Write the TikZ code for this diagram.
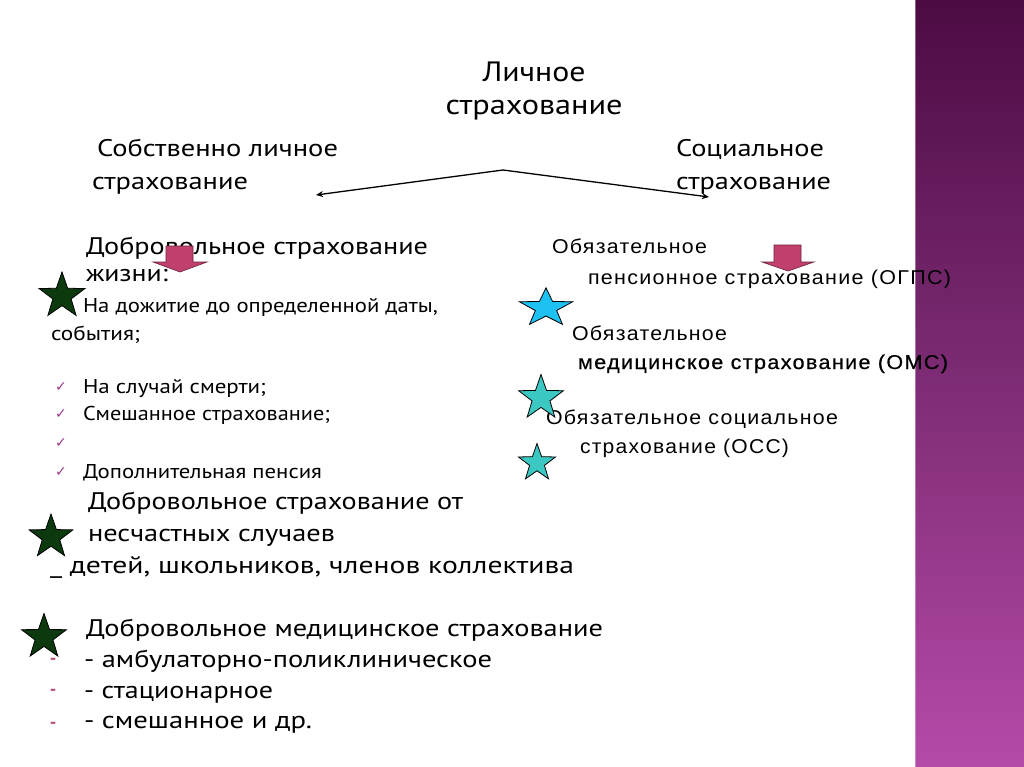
\documentclass[tikz,border=0pt]{standalone}
\usepackage{fontspec}
\usepackage{graphicx}
\setmainfont{PT Sans}
\newfontfamily\rf[LetterSpace=6]{Liberation Sans}
\newfontfamily\rfb[LetterSpace=6,FakeBold=0.5]{Liberation Sans}
\newfontfamily\symf{DejaVu Sans}
\newcommand\fw[2]{\resizebox{#1pt}{\height}{#2}}
\definecolor{bandtop}{HTML}{4C0B43}
\definecolor{bandmid}{HTML}{7E2C75}
\definecolor{bandbot}{HTML}{B54AA8}
\definecolor{dgreen}{HTML}{0C3A0E}
\definecolor{sblue}{HTML}{1EC2F2}
\definecolor{steal}{HTML}{3CC8C2}
\definecolor{pinkarrow}{HTML}{C0406E}
\definecolor{pinkedge}{HTML}{6E1E3E}
\definecolor{chk}{HTML}{9A3A8C}
\definecolor{dashc}{HTML}{B04A7A}
\usetikzlibrary{arrows.meta}
\tikzset{
  txt/.style={anchor=base west, inner sep=0pt, outer sep=0pt},
  big/.style={txt, font=\fontsize{24}{24}\selectfont},
  small/.style={txt, font=\fontsize{20}{20}\selectfont},
  rtxt/.style={txt, font=\rf\fontsize{20}{20}\selectfont},
  ttl/.style={anchor=base, inner sep=0pt, font=\fontsize{28}{28}\selectfont},
  chkmark/.style={anchor=base west, inner sep=0pt, text=chk, font=\symf\fontsize{14}{14}\selectfont},
  dashmark/.style={anchor=center, inner sep=0pt, text=dashc, font=\bfseries\fontsize{18}{18}\selectfont},
  conn/.style={draw=black, line width=1.3pt, -{Stealth[length=7pt,width=6pt]}},
  starstyle/.style={draw=black, line width=0.8pt, line join=miter},
  blockarrow/.style={fill=pinkarrow, draw=pinkedge, line width=0.6pt},
  pics/starp/.style={code={
    \path[pic actions] (270:#1) \foreach \k in {1,...,9}{
      -- ({270+36*\k}:{mod(\k,2)==1 ? #1*0.4 : #1})} -- cycle;}}
}
\begin{document}
\begin{tikzpicture}[x=1pt,y=-1pt]
\useasboundingbox (0,0) rectangle (1024,767);
\fill[white] (0,0) rectangle (1024,767);
% right band
\shade[top color=bandtop, bottom color=bandbot, middle color=bandmid] (915,0) rectangle (1024,767);
\fill[white, opacity=0.35] (913,0) rectangle (916,767);

% title
\node[ttl] (t1) at (534,82) {\fw{103}{Личное}};
\node[ttl] (t2) at (534,115) {\fw{177}{страхование}};

% branches
\node[big] (l1) at (97,157) {\fw{241}{Собственно личное}};
\node[big] (l2) at (92,190) {\fw{156}{страхование}};
\node[big] (r1) at (676,157) {\fw{148}{Социальное}};
\node[big] (r2) at (676,190) {\fw{155}{страхование}};

\coordinate (apex) at (503,170);
\coordinate (lend) at (316,195);
\coordinate (rend) at (709,197);
\draw[conn] (apex) -- (lend);
\draw[conn] (apex) -- (rend);

% left column
\node[big] (v1) at (86,254) {\fw{342}{Добровольное страхование}};
\node[big] (v2) at (86,281) {\fw{82}{жизни:}};
\node[small] (v3) at (83,312) {\fw{355}{На дожитие до определенной даты,}};
\node[small] (v4) at (51,340) {\fw{89}{события;}};
\node[chkmark] (c1) at (55,391) {✓};
\node[small] (v5) at (83,393) {\fw{183}{На случай смерти;}};
\node[chkmark] (c2) at (55,418) {✓};
\node[small] (v6) at (83,420) {\fw{247}{Смешанное страхование;}};
\node[chkmark] (c3) at (55,447) {✓};
\node[chkmark] (c4) at (55,476) {✓};
\node[small] (v7) at (83,478) {\fw{239}{Дополнительная пенсия}};

\node[big] (n1) at (88,509) {\fw{375}{Добровольное страхование от}};
\node[big] (n2) at (88,541) {\fw{247}{несчастных случаев}};
\node[big] (n3) at (50,573) {\fw{524}{\_ детей, школьников, членов коллектива}};

\node[big] (m1) at (86,636) {\fw{517}{Добровольное медицинское страхование}};
\node[dashmark] (d1) at (53,661) {-};
\node[big] (m2) at (84,667) {\fw{408}{- амбулаторно-поликлиническое}};
\node[dashmark] (d2) at (53,692) {-};
\node[big] (m3) at (84,698) {\fw{189}{- стационарное}};
\node[dashmark] (d3) at (53,725) {-};
\node[big] (m4) at (84,728) {\fw{228}{- смешанное и др.}};

% right column
\node[rtxt] (o1) at (552,253) {\fw{155}{Обязательное}};
\node[rtxt] (o2) at (588,284) {\fw{363}{пенсионное страхование (ОГПС)}};
\node[rtxt] (o3) at (572,340) {\fw{155}{Обязательное}};
\node[rtxt, font=\rfb\fontsize{20}{20}\selectfont] (o4) at (578,369) {\fw{370}{медицинское страхование (ОМС)}};
\node[rtxt] (o5) at (546,424) {\fw{292}{Обязательное социальное}};
\node[rtxt] (o6) at (580,453) {\fw{209}{страхование (ОСС)}};

% block arrows
\draw[blockarrow] (166,246) -- (193,246) -- (193,262) -- (207,262) -- (180,272) -- (153,262) -- (166,262) -- cycle;
\draw[blockarrow] (774,245) -- (801,245) -- (801,262) -- (814,262) -- (788,271) -- (762,262) -- (774,262) -- cycle;

% stars
\pic[starstyle, fill=dgreen] (s1) at (62,296) {starp=24};
\pic[starstyle, fill=dgreen] (s2) at (51,537) {starp=23};
\pic[starstyle, fill=dgreen] (s3) at (44,637) {starp=23.5};
\pic[starstyle, fill=sblue, yscale=0.72] (s4) at (546,308) {starp=28};
\pic[starstyle, fill=steal] (s5) at (541,398) {starp=23.5};
\pic[starstyle, fill=steal] (s6) at (537,463) {starp=19.5};
\end{tikzpicture}
\end{document}
